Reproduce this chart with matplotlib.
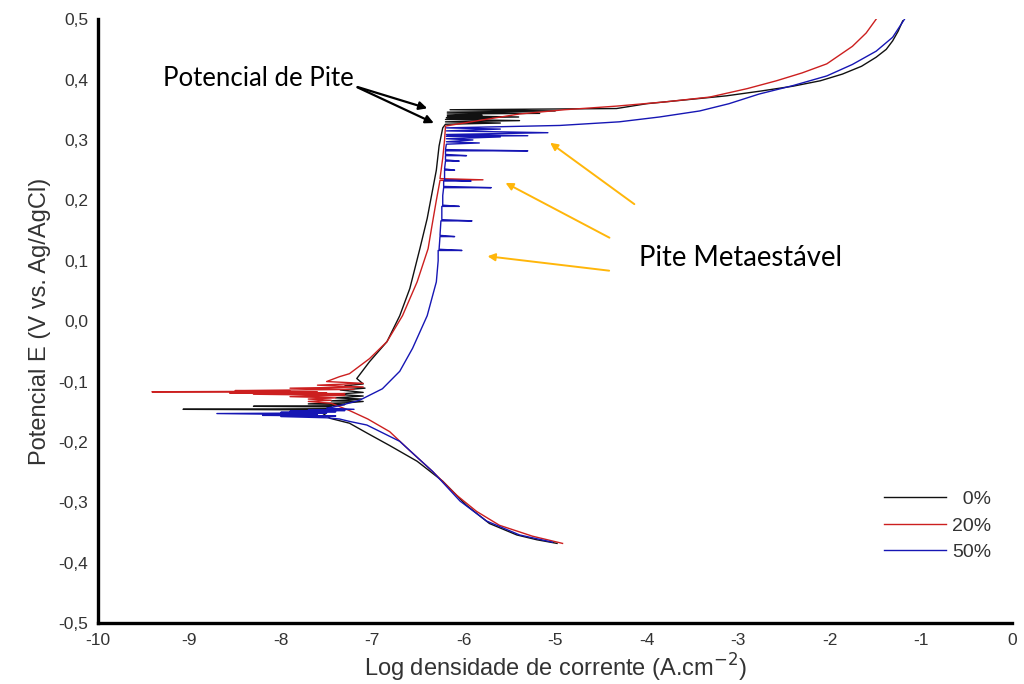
import matplotlib
matplotlib.use("Agg")
import matplotlib.pyplot as plt

# ---------------- data (log i [A/cm2], E [V vs Ag/AgCl]) ----------------
labels = ["  0%", "20%", "50%"]

logi_0 = [-4.98, -5.2, -5.42, -5.72, -5.97, -6.23, -6.51, -6.81, -7.05, -7.25, -7.46, -7.55,
          -7.5, -9.07, -7.5, -7.45, -8.3, -7.4, -7.3, -7.7, -7.25,
          -7.1, -7.45, -7.12, -7.4, -7.1, -7.42, -7.1, -7.35, -7.08, -7.3, -7.1,
          -7.17, -7.03, -6.84, -6.70, -6.59, -6.48, -6.40, -6.35, -6.30, -6.27, -6.23, -6.2,
          -5.6, -6.2, -5.39, -6.2, -5.7, -6.19, -5.4, -6.18, -5.8, -6.18, -5.17, -6.18, -5.0, -6.15,
          -4.33, -4.0, -3.6, -3.13, -2.75, -2.40, -2.1, -1.86, -1.65, -1.49, -1.38, -1.31, -1.25, -1.20]
E_0 = [-0.368, -0.362, -0.354, -0.335, -0.305, -0.265, -0.232, -0.206, -0.186, -0.169, -0.161, -0.152,
       -0.147, -0.146, -0.145, -0.142, -0.141, -0.140, -0.138, -0.137, -0.135,
       -0.133, -0.132, -0.129, -0.127, -0.124, -0.121, -0.118, -0.114, -0.111, -0.107, -0.104,
       -0.095, -0.067, -0.034, 0.009, 0.054, 0.12, 0.17, 0.21, 0.25, 0.29, 0.32, 0.326,
       0.328, 0.330, 0.332, 0.334, 0.336, 0.337, 0.338, 0.340, 0.341, 0.343, 0.344, 0.346, 0.348, 0.350,
       0.352, 0.36, 0.366, 0.373, 0.381, 0.389, 0.398, 0.409, 0.422, 0.437, 0.45, 0.464, 0.48, 0.497]

logi_20 = [-4.92, -5.25, -5.61, -5.86, -6.08, -6.34, -6.6, -6.81, -7.05, -7.25, -7.35,
           -7.45, -7.7, -7.45, -7.7, -7.4, -7.9, -7.3, -8.3, -7.3, -8.56, -7.5, -8.5, -7.6,
           -9.41, -7.9, -8.5, -7.2, -7.9, -7.1, -7.6, -7.1, -7.5,
           -7.36, -7.25, -7.03, -6.84, -6.67, -6.51, -6.39, -6.35, -6.30, -6.26, -5.79, -6.26,
           -6.23, -6.21, -6.2, -5.8, -5.39, -4.9, -4.33, -3.8, -3.31, -2.9, -2.58, -2.3, -2.03,
           -1.75, -1.6, -1.49]
E_20 = [-0.368, -0.356, -0.338, -0.315, -0.288, -0.249, -0.213, -0.183, -0.162, -0.148, -0.142,
        -0.136, -0.133, -0.131, -0.129, -0.127, -0.125, -0.123, -0.121, -0.120, -0.119, -0.1185, -0.118, -0.1175,
        -0.117, -0.116, -0.115, -0.113, -0.111, -0.109, -0.106, -0.103, -0.100,
        -0.092, -0.087, -0.062, -0.034, 0.009, 0.065, 0.12, 0.156, 0.2, 0.233, 0.234, 0.236,
        0.27, 0.30, 0.323, 0.333, 0.343, 0.35, 0.356, 0.363, 0.371, 0.385, 0.398, 0.411, 0.426,
        0.455, 0.477, 0.5]

logi_50 = [-5.03, -5.39, -5.75, -6.04, -6.34, -6.70, -7.06, -7.25, -7.36,
           -7.5, -8.0, -7.4, -8.2, -7.6, -8.70, -7.5, -8.0, -7.4, -7.9, -7.3, -7.7, -7.2, -7.5,
           -7.36, -7.14, -6.89, -6.70, -6.56, -6.40, -6.30, -6.28,
           -6.28, -6.02, -6.27, -6.26, -6.1, -6.26, -6.25, -5.91, -6.24, -6.24, -6.05, -6.23,
           -6.23, -6.22, -5.70, -6.22, -6.22, -5.92, -6.21, -6.21, -6.1, -6.21, -6.2, -6.05, -6.2,
           -6.2, -5.97, -6.2, -6.2, -5.30, -6.2, -6.19, -5.83, -6.19, -5.9, -6.19, -5.6, -6.19,
           -5.30, -6.19, -5.08, -6.19, -5.6, -6.19,
           -4.95, -4.30, -3.86, -3.42, -3.1, -2.77, -2.4, -2.03, -1.75, -1.49, -1.31, -1.18]
E_50 = [-0.366, -0.354, -0.331, -0.298, -0.249, -0.199, -0.172, -0.166, -0.162,
        -0.160, -0.158, -0.157, -0.156, -0.155, -0.153, -0.152, -0.151, -0.150, -0.149, -0.148, -0.147, -0.146, -0.144,
        -0.14, -0.131, -0.112, -0.083, -0.045, 0.009, 0.065, 0.10,
        0.117, 0.117, 0.119, 0.14, 0.14, 0.142, 0.166, 0.166, 0.168, 0.19, 0.19, 0.192,
        0.208, 0.221, 0.221, 0.223, 0.232, 0.232, 0.234, 0.25, 0.25, 0.252, 0.265, 0.265, 0.267,
        0.274, 0.274, 0.276, 0.282, 0.282, 0.284, 0.293, 0.295, 0.297, 0.300, 0.302, 0.305, 0.306,
        0.307, 0.309, 0.312, 0.315, 0.318, 0.320,
        0.324, 0.330, 0.338, 0.348, 0.36, 0.376, 0.39, 0.406, 0.425, 0.447, 0.47, 0.5]

series = [(logi_0, E_0, "#111111"), (logi_20, E_20, "#cc1f1f"), (logi_50, E_50, "#1616b4")]

xticks = [-10, -9, -8, -7, -6, -5, -4, -3, -2, -1, 0]
yticks = [-0.5, -0.4, -0.3, -0.2, -0.1, 0.0, 0.1, 0.2, 0.3, 0.4, 0.5]
ytick_labels = ["-0,5", "-0,4", "-0,3", "-0,2", "-0,1", "0,0", "0,1", "0,2", "0,3", "0,4", "0,5"]

# ---------------- figure ----------------
plt.rcParams["font.family"] = ["Liberation Sans", "DejaVu Sans"]
fig = plt.figure(figsize=(10.24, 6.84), dpi=100)
ax = fig.add_axes([0.0957, 0.089, 0.893, 0.883])

for (x, y, c), lab in zip(series, labels):
    ax.plot(x, y, color=c, lw=1.0, label=lab)

ax.set_xlim(-10, 0)
ax.set_ylim(-0.5, 0.5)
ax.set_xticks(xticks)
ax.set_xticklabels([str(t) for t in xticks])
ax.set_yticks(yticks)
ax.set_yticklabels(ytick_labels)
ax.tick_params(length=0, labelsize=12.5, colors="#333333", pad=7)
for s in ["top", "right"]:
    ax.spines[s].set_visible(False)
for s in ["left", "bottom"]:
    ax.spines[s].set_linewidth(2.4)

ax.set_xlabel("Log densidade de corrente (A.cm$^{-2}$)", fontsize=17, color="#333333", labelpad=3)
ax.set_ylabel("Potencial E (V vs. Ag/AgCl)", fontsize=17, color="#333333", labelpad=5)

leg = ax.legend(loc="lower right", bbox_to_anchor=(0.996, 0.074), frameon=False,
                fontsize=14, handlelength=3.2, handletextpad=0.3, labelspacing=0.45)
for t in leg.get_texts():
    t.set_color("#333333")

# annotations
ax.text(-9.29, 0.401, "Potencial de Pite", fontsize=18.5, family=["Lato", "DejaVu Sans"],
        va="center", ha="left", color="black")
for tip in [(-6.37, 0.351), (-6.30, 0.326)]:
    ax.annotate("", xy=tip, xytext=(-7.19, 0.389),
                arrowprops=dict(arrowstyle="-|>", color="black", lw=1.6, mutation_scale=12))

ax.text(-4.08, 0.104, "Pite Metaestável", fontsize=19.8, family=["Lato", "DejaVu Sans"],
        va="center", ha="left", color="black")
for tip, tail in [((-5.08, 0.298), (-4.11, 0.191)),
                  ((-5.57, 0.231), (-4.38, 0.136)),
                  ((-5.77, 0.108), (-4.38, 0.083))]:
    ax.annotate("", xy=tip, xytext=tail,
                arrowprops=dict(arrowstyle="-|>", color="#ffb60a", lw=1.4, mutation_scale=11))

fig.savefig("out.png", dpi=100)
